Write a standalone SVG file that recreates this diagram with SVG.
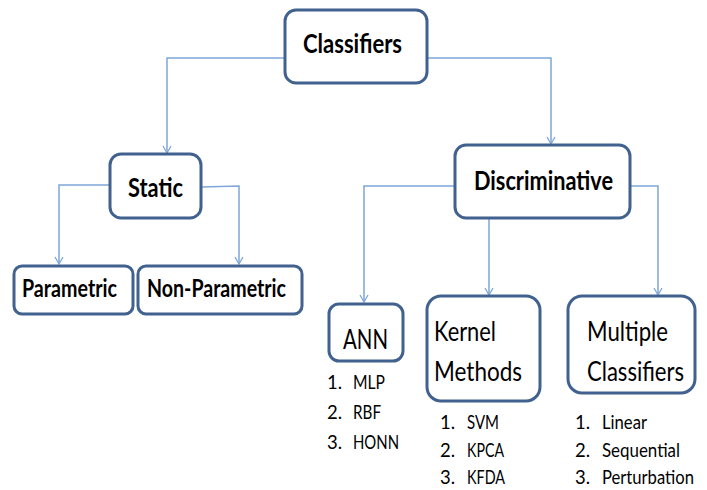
<svg xmlns="http://www.w3.org/2000/svg" width="707" height="490" viewBox="0 0 707 490">
  <defs>
    <marker id="arrow" markerWidth="12" markerHeight="12" refX="10" refY="5" orient="auto" markerUnits="userSpaceOnUse">
      <path d="M3,1 L10,5 L3,9" fill="none" stroke="#7ea6d8" stroke-width="1.3"/>
    </marker>
    <style>
      .box { fill: #ffffff; stroke: #41628e; stroke-width: 3; }
      .link { fill: none; stroke: #7ea6d8; stroke-width: 1.5; marker-end: url(#arrow); }
      .lbl { font-family: Lato, "Open Sans", "Liberation Sans", sans-serif; fill: #000000; }
      .bold { font-weight: bold; }
      .item { font-family: Lato, "Open Sans", "Liberation Sans", sans-serif; font-size: 18.5px; fill: #000000; }
    </style>
  </defs>

  <rect width="707" height="490" fill="#ffffff"/>

  <!-- connectors -->
  <g id="connectors">
    <polyline class="link" points="285,58 167,58 167,153"/>
    <polyline class="link" points="427,58 551,58 551,144"/>
    <polyline class="link" points="110,185 59,185 59,264"/>
    <polyline class="link" points="201,187 239,186 239,264"/>
    <polyline class="link" points="455,186 364,186 364,302"/>
    <polyline class="link" points="489,218 489,295"/>
    <polyline class="link" points="630,186 658,186 658,295"/>
  </g>

  <g id="classifiers">
    <rect class="box" x="285" y="10" width="142" height="73" rx="11"/>
    <text class="lbl bold" x="303" y="53" font-size="27" textLength="99" lengthAdjust="spacingAndGlyphs">Classifiers</text>
  </g>

  <g id="static">
    <rect class="box" x="110" y="154" width="91" height="64" rx="11"/>
    <text class="lbl bold" x="128" y="197" font-size="27" textLength="55" lengthAdjust="spacingAndGlyphs">Static</text>
  </g>

  <g id="discriminative">
    <rect class="box" x="455" y="145" width="175" height="73" rx="11"/>
    <text class="lbl bold" x="474" y="190" font-size="26" textLength="139" lengthAdjust="spacingAndGlyphs">Discriminative</text>
  </g>

  <g id="parametric">
    <rect class="box" x="14" y="266" width="119" height="48" rx="8"/>
    <text class="lbl bold" x="22" y="297" font-size="24" textLength="95" lengthAdjust="spacingAndGlyphs">Parametric</text>
  </g>

  <g id="non-parametric">
    <rect class="box" x="138" y="266" width="164" height="48" rx="8"/>
    <text class="lbl bold" x="147" y="297" font-size="24" textLength="139" lengthAdjust="spacingAndGlyphs">Non-Parametric</text>
  </g>

  <g id="ann">
    <rect class="box" x="329" y="304" width="74" height="57" rx="10"/>
    <text class="lbl" x="343" y="349" font-size="27" textLength="45" lengthAdjust="spacingAndGlyphs">ANN</text>
    <text class="item" x="327" y="389">1.</text>
    <text class="item" x="353" y="389" textLength="32" lengthAdjust="spacingAndGlyphs">MLP</text>
    <text class="item" x="327" y="419">2.</text>
    <text class="item" x="353" y="419" textLength="28" lengthAdjust="spacingAndGlyphs">RBF</text>
    <text class="item" x="327" y="449">3.</text>
    <text class="item" x="353" y="449" textLength="46" lengthAdjust="spacingAndGlyphs">HONN</text>
  </g>

  <g id="kernel-methods">
    <rect class="box" x="427" y="296" width="113" height="105" rx="14"/>
    <text class="lbl" x="434" y="341" font-size="26" textLength="62" lengthAdjust="spacingAndGlyphs">Kernel</text>
    <text class="lbl" x="434" y="381" font-size="26" textLength="88" lengthAdjust="spacingAndGlyphs">Methods</text>
    <text class="item" x="440" y="429">1.</text>
    <text class="item" x="467" y="429" textLength="32" lengthAdjust="spacingAndGlyphs">SVM</text>
    <text class="item" x="440" y="457">2.</text>
    <text class="item" x="467" y="457" textLength="37" lengthAdjust="spacingAndGlyphs">KPCA</text>
    <text class="item" x="440" y="484">3.</text>
    <text class="item" x="467" y="484" textLength="38" lengthAdjust="spacingAndGlyphs">KFDA</text>
  </g>

  <g id="multiple-classifiers">
    <rect class="box" x="568" y="296" width="127" height="97" rx="14"/>
    <text class="lbl" x="587" y="341" font-size="26" textLength="81" lengthAdjust="spacingAndGlyphs">Multiple</text>
    <text class="lbl" x="587" y="381" font-size="26" textLength="97" lengthAdjust="spacingAndGlyphs">Classifiers</text>
    <text class="item" x="575" y="429">1.</text>
    <text class="item" x="602" y="429" textLength="45" lengthAdjust="spacingAndGlyphs">Linear</text>
    <text class="item" x="575" y="457">2.</text>
    <text class="item" x="602" y="457" textLength="78" lengthAdjust="spacingAndGlyphs">Sequential</text>
    <text class="item" x="575" y="484">3.</text>
    <text class="item" x="602" y="484" textLength="92" lengthAdjust="spacingAndGlyphs">Perturbation</text>
  </g>
</svg>
